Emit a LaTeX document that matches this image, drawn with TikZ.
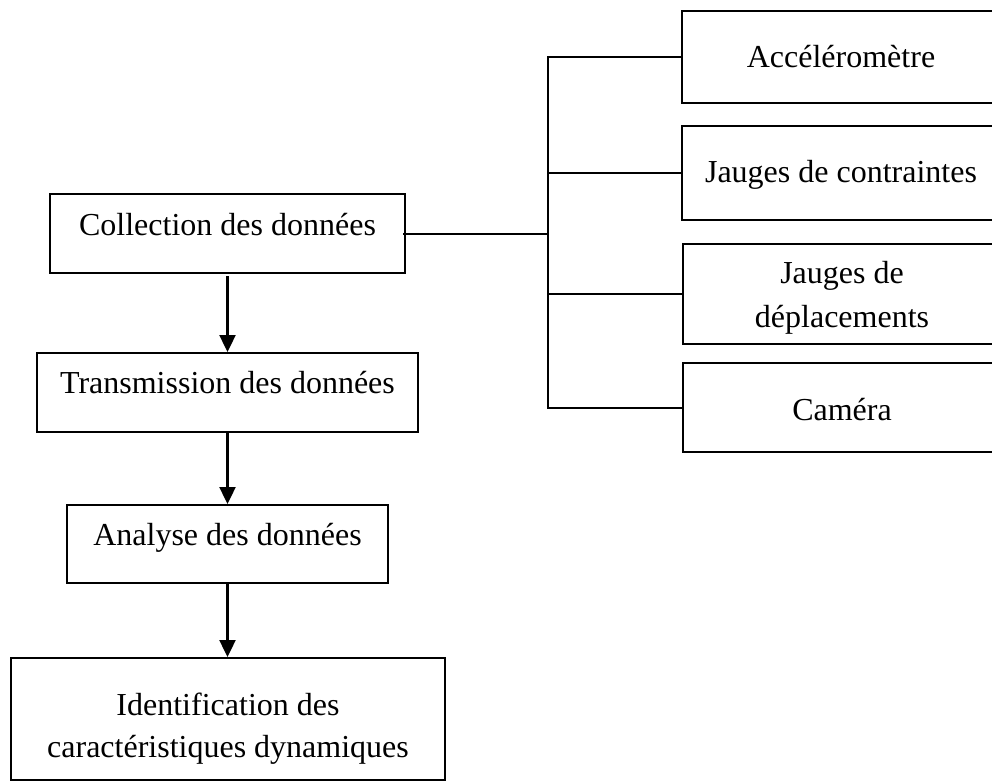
\documentclass[tikz,border=0pt]{standalone}
\usepackage{fontspec}
\setmainfont{Liberation Serif}
\usetikzlibrary{arrows.meta}
\begin{document}
\begin{tikzpicture}[x=1pt,y=1pt,
  box/.style={draw,line width=2pt,inner sep=0pt,rectangle},
  txt/.style={anchor=base,inner sep=0pt,font=\fontsize{32}{42}\selectfont},
  conn/.style={line width=2pt},
  arr/.style={line width=2.4pt,-{Triangle[width=16pt,length=17pt]}}]
\useasboundingbox (0,0) rectangle (992,-781);
% left column
\node[box,minimum width=355pt,minimum height=79pt] (collect) at (227.5,-233.5) {};
\node[txt] (collectT) at (227.5,-235) {Collection des données};
\node[box,minimum width=381pt,minimum height=79pt] (trans) at (227.5,-392.5) {};
\node[txt] (transT) at (227.5,-393) {Transmission des données};
\node[box,minimum width=321pt,minimum height=78pt] (analyse) at (227.5,-544) {};
\node[txt] (analyseT) at (227.5,-545) {Analyse des données};
\node[box,minimum width=434pt,minimum height=122pt] (ident) at (228,-719) {};
\node[txt] (identT1) at (228,-715) {Identification des};
\node[txt] (identT2) at (228,-757) {caractéristiques dynamiques};
% right column
\node[box,minimum width=318pt,minimum height=92pt] (acc) at (841,-57) {};
\node[txt] (accT) at (841,-68) {Accéléromètre};
\node[box,minimum width=318pt,minimum height=94pt] (jc) at (841,-173) {};
\node[txt] (jcT) at (841,-182) {Jauges de contraintes};
\node[box,minimum width=317pt,minimum height=100pt] (jd) at (841.5,-294) {};
\node[txt] (jdT1) at (842,-283) {Jauges de};
\node[txt] (jdT2) at (842,-327) {déplacements};
\node[box,minimum width=317pt,minimum height=89pt] (cam) at (841.5,-407.5) {};
\node[txt] (camT) at (842,-420) {Caméra};
% connectors
\coordinate (bus) at (548,-233.5);
\coordinate (bustop) at (548,-57);
\draw[conn] ([xshift=-3pt]collect.east) -- (bus);
\draw[conn] (acc.west) -- (bustop) -- (bustop |- cam.west) -- (cam.west);
\draw[conn] (jc.west) -- (jc.west -| bustop);
\draw[conn] (jd.west) -- (jd.west -| bustop);
% arrows
\draw[arr] ([yshift=-2pt]collect.south) -- (trans.north);
\draw[arr] (trans.south) -- (analyse.north);
\draw[arr] (analyse.south) -- (analyse.south |- ident.north);
\end{tikzpicture}
\end{document}
